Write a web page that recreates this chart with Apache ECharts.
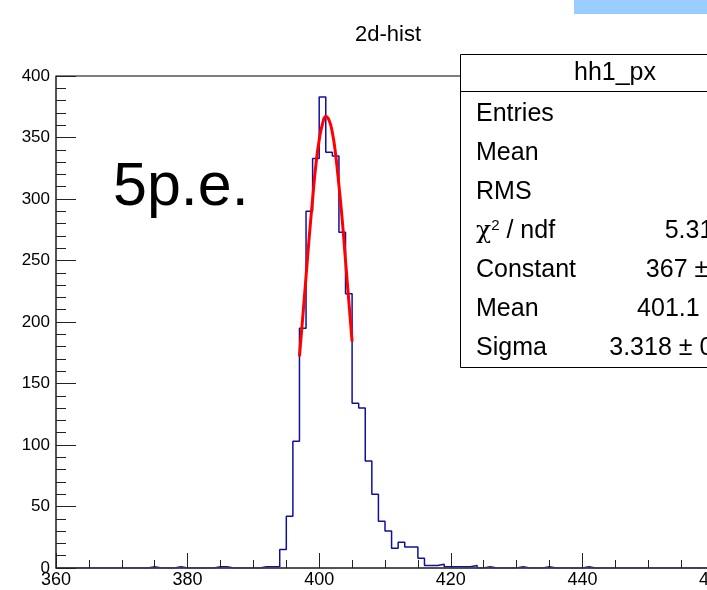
<!DOCTYPE html>
<html>
<head>
<meta charset="utf-8">
<script src="https://cdn.jsdelivr.net/npm/echarts@6/dist/echarts.min.js"></script>
<style>
html,body{margin:0;padding:0;background:#fff;}
#chart{width:707px;height:590px;}
</style>
</head>
<body>
<div id="chart"></div>
<script>
// Histogram: bin low edge starts at 360, width 1
var binStart = 360;
var binCounts = [
  0,0,0,0,0,0,0,0,0,0,
  0,0,0,0,1,0,0,0,1,0,
  0,0,0,0,1,1,0,0,0,0,
  0,1,1,1,15,42,103,195,290,333,
  383,338,335,273,223,134,130,87,60,38,
  30,16,21,17,17,8,2,2,3,1,
  1,1,1,2,0,1,0,0,0,0,
  1,0,0,0,1,0,0,0,0,0,
  1,0,0,0,0,0,0,0,0,0,
  0,0,0,0,0,0,0,0,0,0
];
// Fit curve
var fitX = [397,397.5,398,398.5,399,399.5,400,400.5,401,401.5,402,402.5,403,403.5,404,404.5,405];
var fitY = [172,204,237,270,300,328,348,361,367,364,354,336,311,283,250,217,184];
var xTicks = [360,380,400,420,440,460];
var yTicks = [0,50,100,150,200,250,300,350,400];
var statLabels = ['Entries','Mean','RMS','{c|χ}{s|2} / ndf','Constant','Mean','Sigma'];
var statValues = ['','','','5.318 / 7','367 ± 11.2','401.1 ± 0.1','3.318 ± 0.070'];

var histData = [];
for (var i = 0; i < binCounts.length; i++) histData.push([binStart + i, binCounts[i]]);
histData.push([binStart + binCounts.length, binCounts[binCounts.length - 1]]);
var fitData = fitX.map(function (x, i) { return [x, fitY[i]]; });

var FONT = '"Liberation Sans", Arial, Helvetica, sans-serif';
var chart = echarts.init(document.getElementById('chart'), null, {renderer: 'canvas'});

var graphics = [
  {type:'rect', shape:{x:574, y:0, width:140, height:14}, style:{fill:'#99ccff'}, z:100},
  {type:'text', x:388, y:35, style:{text:'2d-hist', font:'22px ' + FONT, fill:'#000', align:'center', verticalAlign:'middle'}, z:100},
  {type:'text', x:113, y:158, style:{text:'5p.e.', font:'61px ' + FONT, fill:'#000', align:'left', verticalAlign:'top'}, z:100},
  {type:'rect', shape:{x:460.5, y:54.5, width:300, height:313}, style:{fill:'#fff', stroke:'#000', lineWidth:1}, z:100},
  {type:'line', shape:{x1:460.5, y1:91.5, x2:760, y2:91.5}, style:{stroke:'#000', lineWidth:1}, z:101},
  {type:'text', x:615, y:73, style:{text:'hh1_px', font:'25px ' + FONT, fill:'#000', align:'center', verticalAlign:'middle'}, z:101}
];
for (var r = 0; r < statLabels.length; r++) {
  var yy = 114 + 39 * r;
  graphics.push({type:'text', x:476, y:yy, z:101, style:{
    text: statLabels[r], font:'25px ' + FONT, fill:'#000', align:'left', verticalAlign:'middle',
    rich: {c:{fontSize:25, fontFamily:'"DejaVu Serif", serif', fill:'#000'}, s:{fontSize:15, fontFamily:FONT, verticalAlign:'top', padding:[0,0,10,0], fill:'#000'}}
  }});
  if (statValues[r]) {
    graphics.push({type:'text', x:762, y:yy, z:101, style:{text: statValues[r], font:'25px ' + FONT, fill:'#000', align:'right', verticalAlign:'middle'}});
  }
}

chart.setOption({
  animation: false,
  backgroundColor: '#fff',
  grid: {left:56, top:76, width:658, bottom:22, show:true, borderColor:'#000', borderWidth:1, containLabel:false, outerBoundsMode:'none'},
  xAxis: {
    type:'value', min:360, max:460, interval:20, z:5,
    axisLine:{show:true, onZero:false, lineStyle:{color:'#444', width:1.5}},
    axisTick:{show:true, inside:true, length:15, lineStyle:{color:'#222', width:1}},
    minorTick:{show:true, splitNumber:4, length:8, lineStyle:{color:'#222', width:1}},
    axisLabel:{show:true, fontSize:18, fontFamily:FONT, color:'#000', margin:3,
      customValues: xTicks, formatter:function(v){return String(v);}},
    splitLine:{show:false}
  },
  yAxis: {
    type:'value', min:0, max:400, interval:50, z:5,
    axisLine:{show:true, onZero:false, lineStyle:{color:'#444', width:1.5}},
    axisTick:{show:true, inside:true, length:20, lineStyle:{color:'#222', width:1}},
    minorTick:{show:true, splitNumber:5, length:10, lineStyle:{color:'#222', width:1}},
    axisLabel:{show:true, fontSize:17, fontFamily:FONT, color:'#000', margin:6},
    splitLine:{show:false}
  },
  series: [
    {type:'line', data:histData, step:'end', symbol:'none', z:1,
      lineStyle:{color:'#1010a0', width:1.5}},
    {type:'line', data:fitData, smooth:true, symbol:'none', z:3,
      lineStyle:{color:'#ff0000', width:3}}
  ],
  graphic: graphics
});
</script>
</body>
</html>
